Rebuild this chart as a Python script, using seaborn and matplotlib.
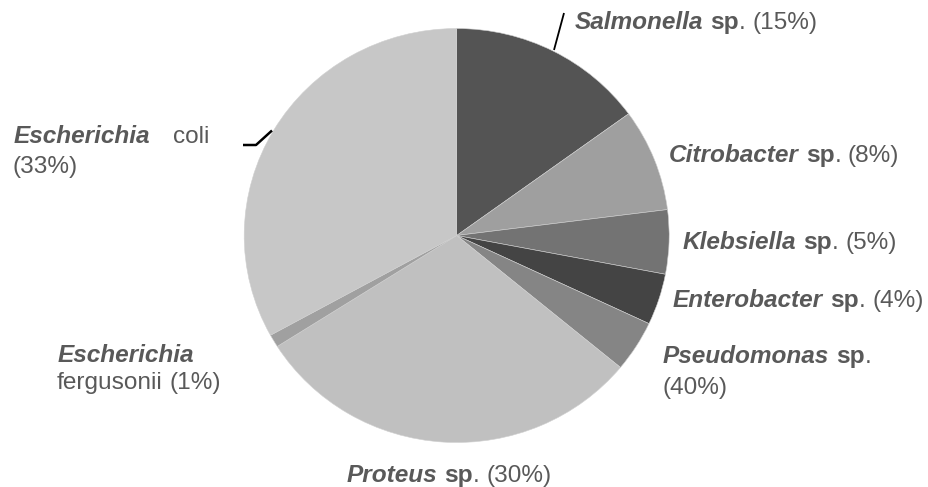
import matplotlib
matplotlib.use("Agg")
import matplotlib.pyplot as plt
from matplotlib.lines import Line2D
import seaborn as sns

# ---- data ----
species = ["Salmonella", "Citrobacter", "Klebsiella", "Enterobacter",
           "Pseudomonas", "Proteus", "Escherichia fergusonii", "Escherichia coli"]
shares = [15, 8, 5, 4, 4, 30, 1, 33]
label_pct = ["(15%)", "(8%)", "(5%)", "(4%)", "(40%)", "(30%)", "(1%)", "(33%)"]
slice_colors = ["#545454", "#9f9f9f", "#737373", "#444444",
                "#858585", "#c0c0c0", "#a0a0a0", "#c7c7c7"]

sns.set_theme(style="white")
plt.rcParams['font.family'] = ['Liberation Sans', 'DejaVu Sans']

W, H = 929, 487
fig = plt.figure(figsize=(W / 100, H / 100), dpi=100)
ax = fig.add_axes([0, 0, 1, 1])
ax.pie(shares, colors=slice_colors, startangle=90, counterclock=False,
       radius=1, wedgeprops=dict(linewidth=0.4, edgecolor="#d0d0d0"))
ax.set_aspect('auto')
cx, cy, rx, ry = 456.7, 235.5, 212.5, 207.0
ax.set_xlim(-cx / rx, (W - cx) / rx)
ax.set_ylim(-(H - cy) / ry, cy / ry)
ax.axis('off')

FS = 17.6
TXT = "#595959"
SP = 0.278 * FS * 100 / 72
renderer = fig.canvas.get_renderer()

STY = {"bi": dict(fontweight="bold", fontstyle="italic"),
       "b": dict(fontweight="bold"),
       "r": dict()}


def rich(x, y, parts):
    for txt, sty, gap in parts:
        x += gap
        t = fig.text(x / W, 1 - y / H, txt, fontsize=FS, color=TXT,
                     ha="left", va="baseline", **STY[sty])
        x += t.get_window_extent(renderer).width


def sp_label(x, y, genus, pct):
    rich(x, y, [(genus, "bi", 0), ("sp", "b", SP), (".", "r", 0), (pct, "r", SP)])


sp_label(575, 29, species[0], label_pct[0])
sp_label(669, 162, species[1], label_pct[1])
sp_label(683, 249, species[2], label_pct[2])
sp_label(673, 307, species[3], label_pct[3])
rich(663, 363, [(species[4], "bi", 0), ("sp", "b", SP), (".", "r", 0)])
rich(663, 394, [(label_pct[4], "r", 0)])
sp_label(347, 482, species[5], label_pct[5])
rich(58, 362, [("Escherichia", "bi", 0)])
rich(57, 389, [("fergusonii", "r", 0), (label_pct[6], "r", SP)])
rich(14, 143, [("Escherichia", "bi", 0), ("coli", "r", 23)])
rich(13, 173, [(label_pct[7], "r", 0)])


def leader(xs, ys, lw):
    fig.add_artist(Line2D([v / W for v in xs], [1 - v / H for v in ys],
                          transform=fig.transFigure, color="black", lw=lw,
                          solid_capstyle="butt"))


leader([554, 564], [50, 13], 1.3)
leader([243, 256, 272], [145, 145, 130.5], 1.8)

fig.savefig("out.png", dpi=100, facecolor="white")
